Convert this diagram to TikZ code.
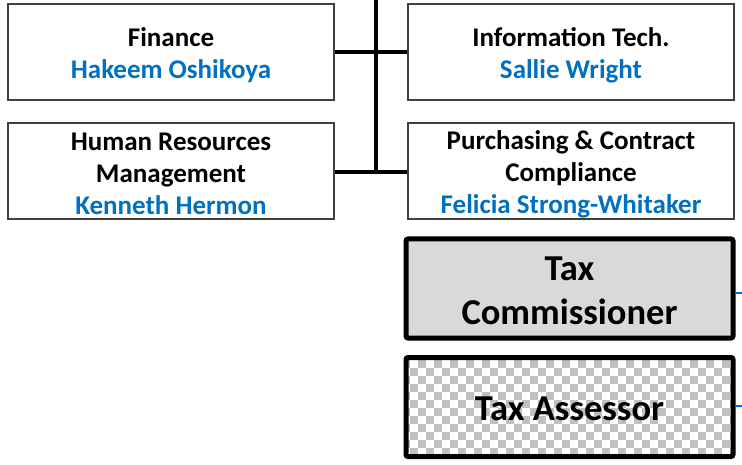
\documentclass[tikz,border=0pt]{standalone}
\usepackage{fontspec}
\setmainfont{Carlito}
\definecolor{nameblue}{HTML}{0070C0}
\definecolor{boxgray}{HTML}{D9D9D9}
\definecolor{chkgray}{HTML}{C0C0C0}
\definecolor{edgegray}{HTML}{404040}
\begin{document}
\begin{tikzpicture}[x=1pt,y=-1pt,
  dept/.style={draw=edgegray,line width=1.5pt,fill=white,minimum width=326pt,minimum height=96pt,
    inner sep=0pt,label={[align=center,yshift=-3pt,font=\bfseries\fontsize{27}{32}\selectfont]center:#1}},
  topbox/.style={draw=black,line width=5pt,rounded corners=2pt,minimum width=327pt,minimum height=99pt,
    inner sep=0pt,label={[align=center,yshift=-2pt,font=\bfseries\fontsize{36.5}{44}\selectfont]center:#1}},
  link/.style={line width=4pt,black},
  stub/.style={line width=1.2pt,nameblue}]
\useasboundingbox (0,0) rectangle (742,465);
\node[dept={Finance\\\textcolor{nameblue}{Hakeem Oshikoya}}] (fin) at (171,52) {};
\node[dept={Human Resources\\Management\\\textcolor{nameblue}{Kenneth Hermon}}] (hr) at (171,171) {};
\node[dept={Information Tech.\\\textcolor{nameblue}{Sallie Wright}}] (it) at (571,52) {};
\node[dept={Purchasing \& Contract\\Compliance\\\textcolor{nameblue}{Felicia Strong-Whitaker}}] (pur) at (571,171) {};
\coordinate (top) at (376,0);
\coordinate (bot) at (376,172);
\draw[link] (top) -- (bot);
\draw[link] (fin.east) -- (it.west);
\draw[link] (hr.east |- bot) -- (pur.west |- bot);
% Tax Commissioner
\node[topbox={Tax\\Commissioner},fill=boxgray] (tc) at (569.5,288.5) {};
% Tax Assessor with checker fill
\begin{scope}
  \clip (406,357) rectangle (733,457);
  \fill[white] (406,357) rectangle (733,457);
  \foreach \i in {0,...,41}{
    \foreach \j in {0,...,12}{
      \pgfmathparse{int(mod(\i+\j,2))}
      \ifnum\pgfmathresult=1
        \fill[chkgray] (402+8*\i,352+8*\j) rectangle ++(8,8);
      \fi
    }
  }
\end{scope}
\node[topbox={Tax Assessor}] (ta) at (569.5,407) {};
\coordinate (sa) at (742,293);
\coordinate (sb) at (742,406);
\draw[stub] (sa -| tc.east) -- (sa);
\draw[stub] (sb -| ta.east) -- (sb);
\end{tikzpicture}
\end{document}
